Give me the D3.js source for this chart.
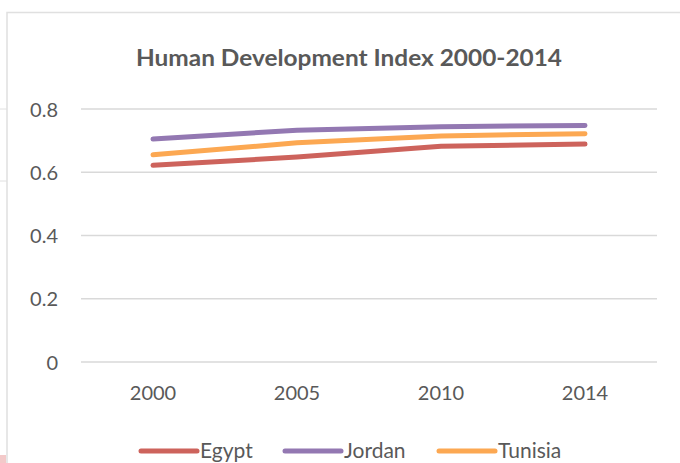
<!DOCTYPE html>
<html><head><meta charset="utf-8">
<script src="https://cdn.jsdelivr.net/npm/d3@7"></script>
<style>body{margin:0;background:#fff}svg{display:block}text{font-family:Lato,"Open Sans",sans-serif;fill:#595959}</style>
</head><body>
<script>
const years = ["2000","2005","2010","2014"];
const egypt = [0.622, 0.648, 0.682, 0.689];
const jordan = [0.705, 0.733, 0.744, 0.748];
const tunisia = [0.655, 0.693, 0.715, 0.722];
const seriesNames = ["Egypt","Jordan","Tunisia"];
const seriesColors = ["#cd635c","#9378b2","#fca852"];
const yTicks = [0,0.2,0.4,0.6,0.8];
const title = "Human Development Index 2000-2014";

const W=680,H=463;
const svg=d3.select("body").append("svg").attr("width",W).attr("height",H);
// frame
svg.append("rect").attr("x",7).attr("y",12.5).attr("width",700).attr("height",480)
  .attr("fill","none").attr("stroke","#e0e0e0").attr("stroke-width",1.5);
// stray marks at left edge
[109,181].forEach(y=>svg.append("line").attr("x1",0).attr("x2",7).attr("y1",y).attr("y2",y).attr("stroke","#e0e0e0"));
svg.append("rect").attr("x",0).attr("y",455).attr("width",6).attr("height",8).attr("fill","#f3c9c9");

const x=d3.scaleBand().domain(years).range([81,657]);
const y=d3.scaleLinear().domain([0,0.8]).range([362,109]);

svg.append("text").attr("x",349).attr("y",66).attr("text-anchor","middle")
  .attr("font-size",22).attr("font-weight","bold")
  .attr("textLength",426).attr("lengthAdjust","spacingAndGlyphs").text(title);

const gy=svg.append("g");
gy.selectAll("line").data(yTicks).join("line")
  .attr("x1",81).attr("x2",657).attr("y1",d=>y(d)).attr("y2",d=>y(d))
  .attr("stroke","#d9d9d9").attr("stroke-width",1.3);
gy.selectAll("text").data(yTicks).join("text")
  .attr("x",58).attr("y",d=>y(d)+7.5).attr("text-anchor","end").attr("font-size",20)
  .text(d=>d===0?"0":d3.format(".1f")(d));

svg.append("g").selectAll("text").data(years).join("text")
  .attr("x",d=>x(d)+x.bandwidth()/2).attr("y",400).attr("text-anchor","middle").attr("font-size",20)
  .text(d=>d);

const data=[egypt,jordan,tunisia];
const line=d3.line().x((d,i)=>x(years[i])+x.bandwidth()/2).y(d=>y(d));
svg.append("g").selectAll("path").data(data).join("path")
  .attr("d",line).attr("fill","none").attr("stroke",(d,i)=>seriesColors[i])
  .attr("stroke-width",5).attr("stroke-linecap","round").attr("stroke-linejoin","round");

const legX=[141,285,439];
const lg=svg.append("g").selectAll("g").data(seriesNames).join("g");
lg.append("line").attr("x1",(d,i)=>legX[i]).attr("x2",(d,i)=>legX[i]+56)
  .attr("y1",451).attr("y2",451).attr("stroke",(d,i)=>seriesColors[i])
  .attr("stroke-width",5).attr("stroke-linecap","round");
lg.append("text").attr("x",(d,i)=>legX[i]+59).attr("y",458).attr("font-size",21).text(d=>d);
</script>
</body></html>
